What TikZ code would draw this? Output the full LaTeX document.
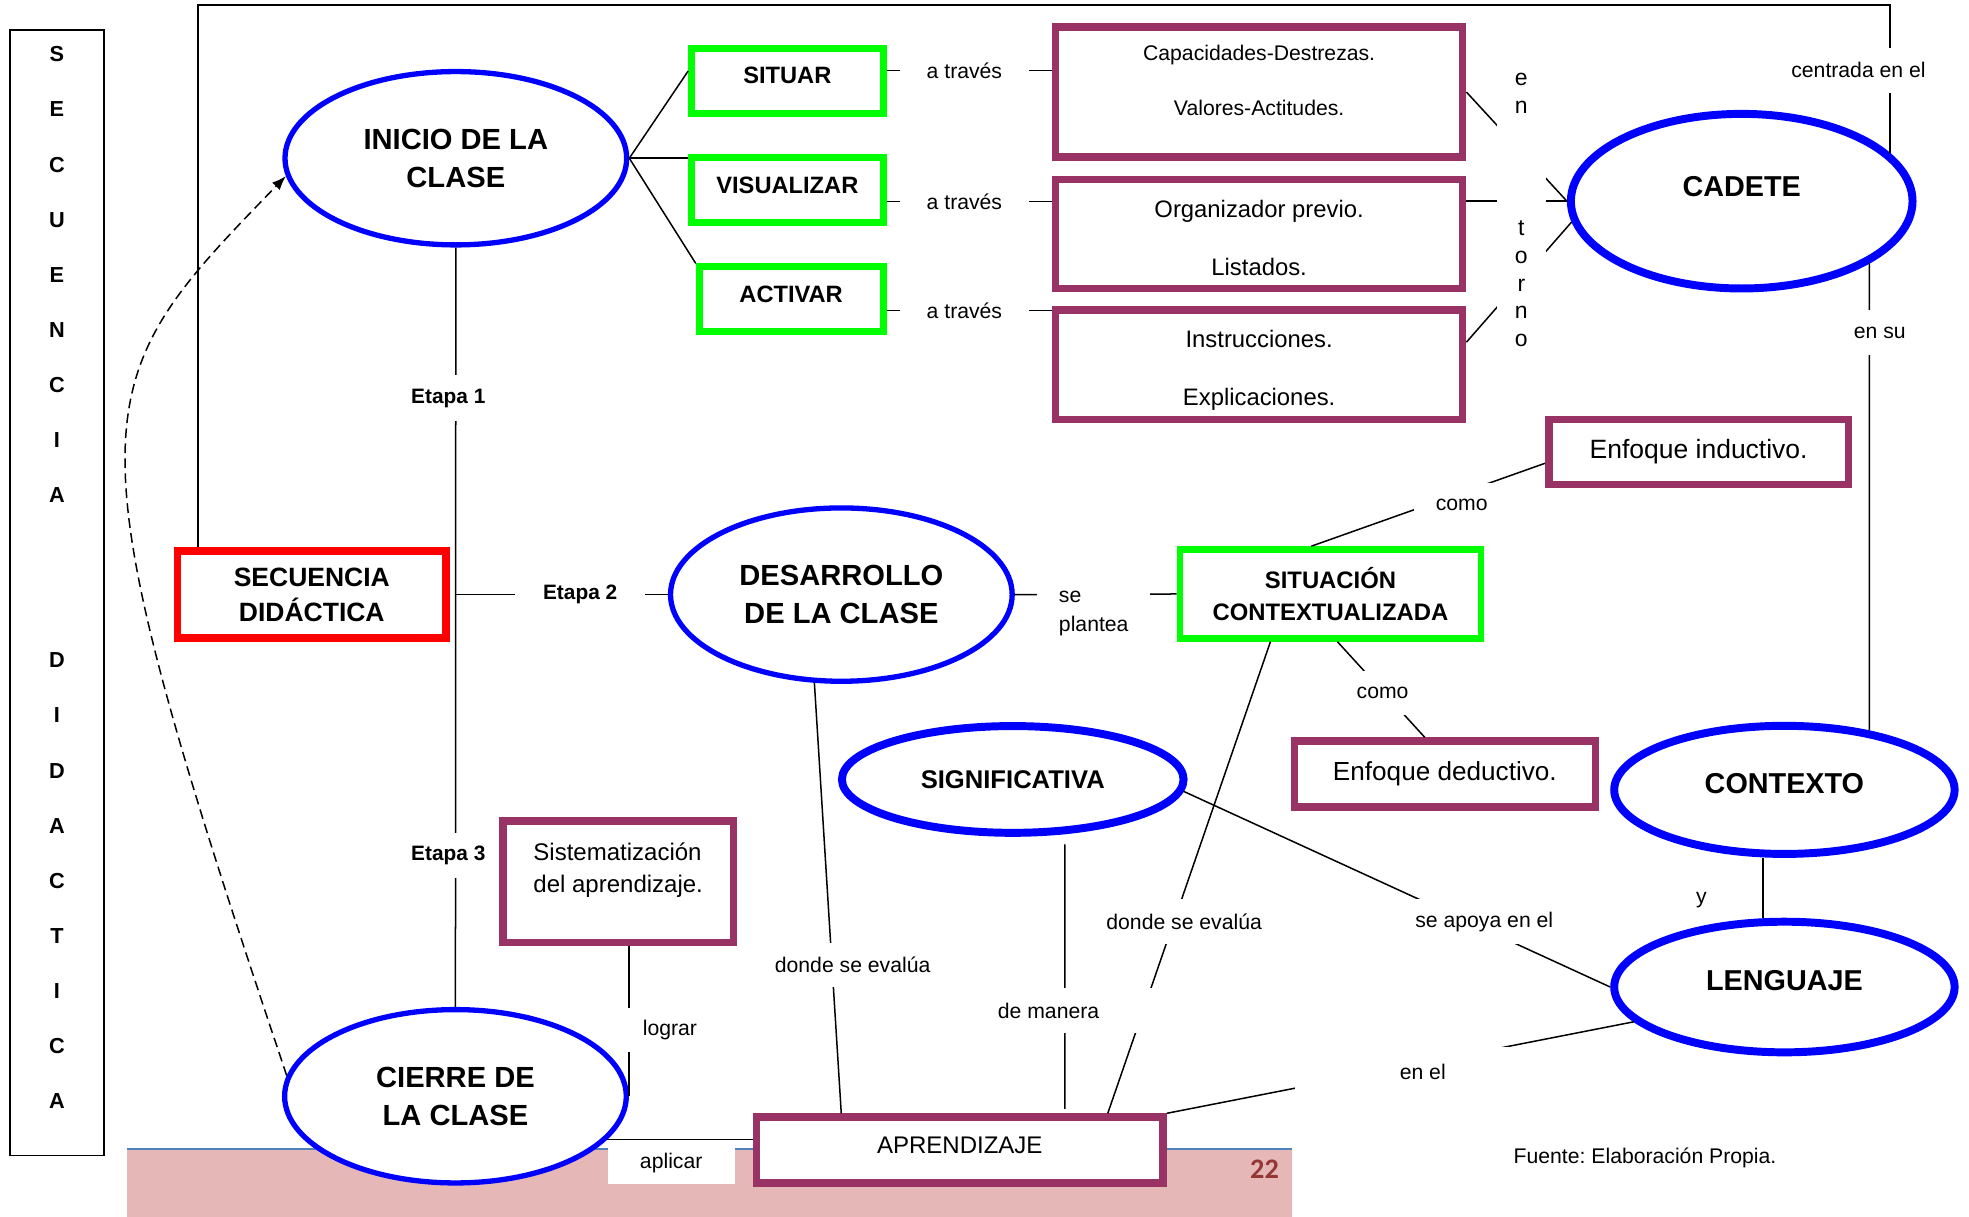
\documentclass[tikz,border=0pt]{standalone}
\usepackage{fontspec}
\setmainfont{Liberation Sans}
\newfontfamily\calibri{Carlito}
\usetikzlibrary{shapes.geometric,arrows.meta,calc}

\definecolor{azul}{RGB}{0,0,255}
\definecolor{verde}{RGB}{0,255,0}
\definecolor{morado}{RGB}{153,51,102}
\definecolor{rojo}{RGB}{255,0,0}
\definecolor{rosa}{RGB}{229,184,183}
\definecolor{azulpie}{RGB}{79,129,189}
\definecolor{granate}{RGB}{148,54,52}

\begin{document}
\frenchspacing
\begin{tikzpicture}[x=0.025cm,y=-0.025cm]
\tikzset{clase/.style = {shape=ellipse,draw=azul,line width=3pt,fill=white,inner sep=0pt,align=center,
  font=\bfseries\fontsize{16.5}{21.7}\selectfont,minimum width=6.8cm,minimum height=3.45cm}}
\tikzset{eje/.style = {shape=ellipse,draw=azul,line width=4.5pt,fill=white,inner sep=0pt,
  font=\bfseries\fontsize{16.3}{20}\selectfont}}
\tikzset{caja/.style = {draw=verde,line width=3.9pt,fill=white,inner sep=0pt,
  font=\bfseries\fontsize{13.4}{17.9}\selectfont}}
\tikzset{marco/.style = {draw=morado,line width=4.3pt,fill=white,inner sep=0pt,align=center}}
\tikzset{etiqueta/.style = {fill=white,inner sep=0pt,font=\fontsize{12}{14}\selectfont}}
\tikzset{linea/.style = {line width=0.85pt}}
\useasboundingbox (0,0) rectangle (1568,969);

% pie de pagina
\fill[rosa] (101,915) rectangle (1029,969);
\draw[azulpie,line width=1.6pt] (101,915) -- (1029,915);
\node[font=\calibri\bfseries\fontsize{16}{19}\selectfont,text=granate] (pag) at (1007,931) {22};

% titulo vertical
\node[draw,line width=1pt,inner sep=0pt,minimum width=1.88cm,minimum height=22.4cm] (franja) at (45.3,472) {};
\node[font=\bfseries\fontsize{12.3}{31.2}\selectfont,align=center] (titulo) at (45.3,460)
  {S\\E\\C\\U\\E\\N\\C\\I\\A\\[62.4pt]D\\I\\D\\A\\C\\T\\I\\C\\A};

% nodos
\node[clase] (inicio) at (363,126) {INICIO DE LA\\CLASE};
\node[clase] (desarrollo) at (670,473.5) {DESARROLLO\\DE LA CLASE};
\node[clase] (cierre) at (362.7,873) {CIERRE DE\\LA CLASE};
\node[eje,minimum width=6.8cm,minimum height=3.475cm,text depth=16.4pt] (cadete) at (1387,160.2) {CADETE};
\node[eje,minimum width=6.775cm,minimum height=2.55cm,text depth=7.5pt] (contexto) at (1421,629) {CONTEXTO};
\node[eje,minimum width=6.775cm,minimum height=2.6cm,text depth=7.4pt] (lenguaje) at (1421,786) {LENGUAJE};
\node[eje,minimum width=6.8cm,minimum height=2.125cm,font=\bfseries\fontsize{14.5}{17}\selectfont] (signif) at (806.5,620.7) {SIGNIFICATIVA};

\node[draw=rojo,line width=4.1pt,fill=white,inner sep=0pt,align=center,font=\bfseries\fontsize{15}{19.8}\selectfont,
  minimum width=5.34cm,minimum height=1.735cm] (sec) at (248.3,473.4) {SECUENCIA\\DIDÁCTICA};

\node[caja,minimum width=3.81cm,minimum height=1.29cm,text depth=6.4pt] (situar) at (627,64.5) {SITUAR};
\node[caja,minimum width=3.81cm,minimum height=1.3cm,text depth=5.7pt] (visual) at (627,151.3) {VISUALIZAR};
\node[caja,minimum width=3.66cm,minimum height=1.29cm,text depth=6.1pt] (activar) at (630,238.3) {ACTIVAR};
\node[caja,align=center,minimum width=5.99cm,minimum height=1.76cm,font=\bfseries\fontsize{13.5}{17.9}\selectfont] (sitcon) at (1059.5,473) {SITUACIÓN\\CONTEXTUALIZADA};

\node[marco,minimum width=8.1cm,minimum height=2.585cm,font=\fontsize{12}{31.3}\selectfont] (cap) at (1002.7,73.3)
  {Capacidades-Destrezas.\\Valores-Actitudes.\rule[-13.5pt]{0pt}{13.5pt}};
\node[marco,minimum width=8.1cm,minimum height=2.17cm,font=\fontsize{13.5}{32.7}\selectfont] (org) at (1002.7,186.4)
  {\rule{0pt}{14pt}Organizador previo.\\Listados.};
\node[marco,minimum width=8.1cm,minimum height=2.175cm,font=\fontsize{13.5}{32.7}\selectfont] (inst) at (1002.7,290.5)
  {\rule{0pt}{16pt}Instrucciones.\\Explicaciones.};
\node[marco,minimum width=5.96cm,minimum height=1.29cm,font=\fontsize{15}{18}\selectfont] (induct) at (1352.7,359.9) {Enfoque inductivo.};
\node[marco,minimum width=5.99cm,minimum height=1.31cm,font=\fontsize{14.8}{18}\selectfont] (deduct) at (1150.6,616.4) {Enfoque deductivo.};
\node[marco,align=left,minimum width=4.59cm,minimum height=2.41cm,font=\fontsize{13.6}{17.8}\selectfont] (sist) at (492.3,702.2)
  {Sistematización\\del aprendizaje.\rule[-16.2pt]{0pt}{16.2pt}};
\node[marco,minimum width=8.09cm,minimum height=1.31cm,font=\fontsize{13.6}{16}\selectfont,text depth=5pt] (aprend) at (764.3,915.8) {APRENDIZAJE};

% conectores
\draw[line width=1.2pt] ($(sec.north west)+(19,0)$) -- ++(0,-432) -| (cadete.18);
\draw[linea] (cadete.-26) -- (contexto.35);
\draw[linea] ($(contexto.south)+(-17,0)$) -- ($(lenguaje.north)+(-17,0)$);
\draw[linea] (inicio.east) -- ($(situar.west)+(0,-8)$);
\draw[linea] (inicio.east) -- (inicio.east -| visual.west);
\draw[linea] (inicio.east) -- (activar.north west);
\draw[linea] ($(situar.east)+(0,-8.5)$) -- ($(situar.east -| cap.west)+(0,-8.5)$);
\draw[linea] ($(visual.east)+(0,9.3)$) -- ($(visual.east -| org.west)+(0,9.3)$);
\draw[linea] ($(activar.east)+(0,9)$) -- ($(activar.east -| inst.west)+(0,9)$);
\draw[linea] (cap.east) -- (cadete.west);
\draw[linea] (org.east |- cadete.west) -- (cadete.west);
\draw[linea] ($(inst.east)+(0,-18)$) -- (cadete.187);
\draw[linea] (inicio.south) -- (cierre.north);
\draw[linea] (inicio.south |- desarrollo.west) -- (desarrollo.west);
\draw[linea] (desarrollo.east) -- (sitcon.west);
\draw[linea] ($(sitcon.north)+(-15.5,0)$) -- ($(induct.west)+(0,9)$);
\draw[linea] ($(sitcon.south)+(5.5,0)$) -- ($(deduct.north)+(-16,0)$);
\draw[linea] (desarrollo.253) -- ($(aprend.north west)+(70.5,0)$);
\draw[linea] ($(signif.south)+(41.5,6)$) -- ($(aprend.north west)+(248.5,-3.6)$);
\draw[linea] ($(sitcon.south west)+(74.8,0)$) -- ($(aprend.north east)+(-47,0)$);
\draw[linea] (signif.-4) -- (lenguaje.west);
\draw[linea] (aprend.north east) -- (lenguaje.193);
\draw[linea] (sist.south -| cierre.east) -- (cierre.east);
\draw[linea] (cierre.-16) -- (cierre.-16 -| aprend.west);
\draw[linea,dash pattern=on 5.5pt off 3pt,-{Latex[length=8pt,width=6pt]}]
  (cierre.173) .. controls +(-179,-532) and +(-161,166) .. (inicio.186);

% etiquetas
\node[fill=white,inner sep=0pt,minimum width=0.975cm,align=center,font=\fontsize{13}{15.6}\selectfont] (entorno) at (1211.5,167)
  {e\\n\\[54pt]t\\o\\r\\n\\o};
\node[etiqueta,minimum width=2.9cm,minimum height=0.9cm] (centrada) at (1480,56) {centrada en el};
\node[etiqueta,minimum width=1.25cm,minimum height=0.9cm] (ensu) at (1497,265) {en su};
\node[font=\fontsize{12}{14}\selectfont] (conj) at (1355,717) {y};
\node[etiqueta,font=\bfseries\fontsize{11.8}{14}\selectfont,minimum width=1.75cm,minimum height=0.9cm] (etapa1) at (357,317) {Etapa 1};
\node[etiqueta,font=\bfseries\fontsize{11.8}{14}\selectfont,minimum width=2.575cm,minimum height=0.75cm] (etapa2) at (462,473.5) {Etapa 2};
\node[etiqueta,font=\bfseries\fontsize{11.8}{14}\selectfont,minimum width=1.75cm,minimum height=0.9cm] (etapa3) at (357,681.5) {Etapa 3};
\node[etiqueta,minimum width=2.575cm,minimum height=0.75cm] (atraves1) at (768,56) {a través};
\node[etiqueta,minimum width=2.575cm,minimum height=0.75cm] (atraves2) at (768,160.6) {a través};
\node[etiqueta,minimum width=2.575cm,minimum height=0.75cm] (atraves3) at (768,247.3) {a través};
\node[etiqueta,align=left,minimum width=2.25cm,minimum height=1.25cm,font=\fontsize{12}{16.4}\selectfont] (plantea) at (871,488.5) {se\\plantea};
\node[etiqueta,minimum width=1.9cm,minimum height=0.85cm] (como1) at (1164,402) {como};
\node[etiqueta,minimum width=1.25cm,minimum height=0.875cm] (como2) at (1101,552) {como};
\node[etiqueta,minimum width=3.25cm,minimum height=0.875cm] (evalua1) at (679,768.5) {donde se evalúa};
\node[etiqueta,minimum width=4.25cm,minimum height=0.9cm] (manera) at (835,805) {de manera};
\node[etiqueta,minimum width=3.25cm,minimum height=0.9cm] (evalua2) at (943,734) {donde se evalúa};
\node[etiqueta,minimum width=3cm,minimum height=0.9cm] (apoya) at (1182,734) {se apoya en el};
\node[etiqueta,minimum width=5.1cm,minimum height=1cm] (enel) at (1133,853.5) {en el};
\node[etiqueta,minimum width=1.85cm,minimum height=0.875cm] (lograr) at (533.5,820.5) {lograr};
\node[etiqueta,minimum width=2.525cm,minimum height=0.85cm] (aplicar) at (534.5,926) {aplicar};
\node[font=\fontsize{12}{14}\selectfont] (fuente) at (1310,922) {Fuente: Elaboración Propia.};
\end{tikzpicture}
\end{document}
